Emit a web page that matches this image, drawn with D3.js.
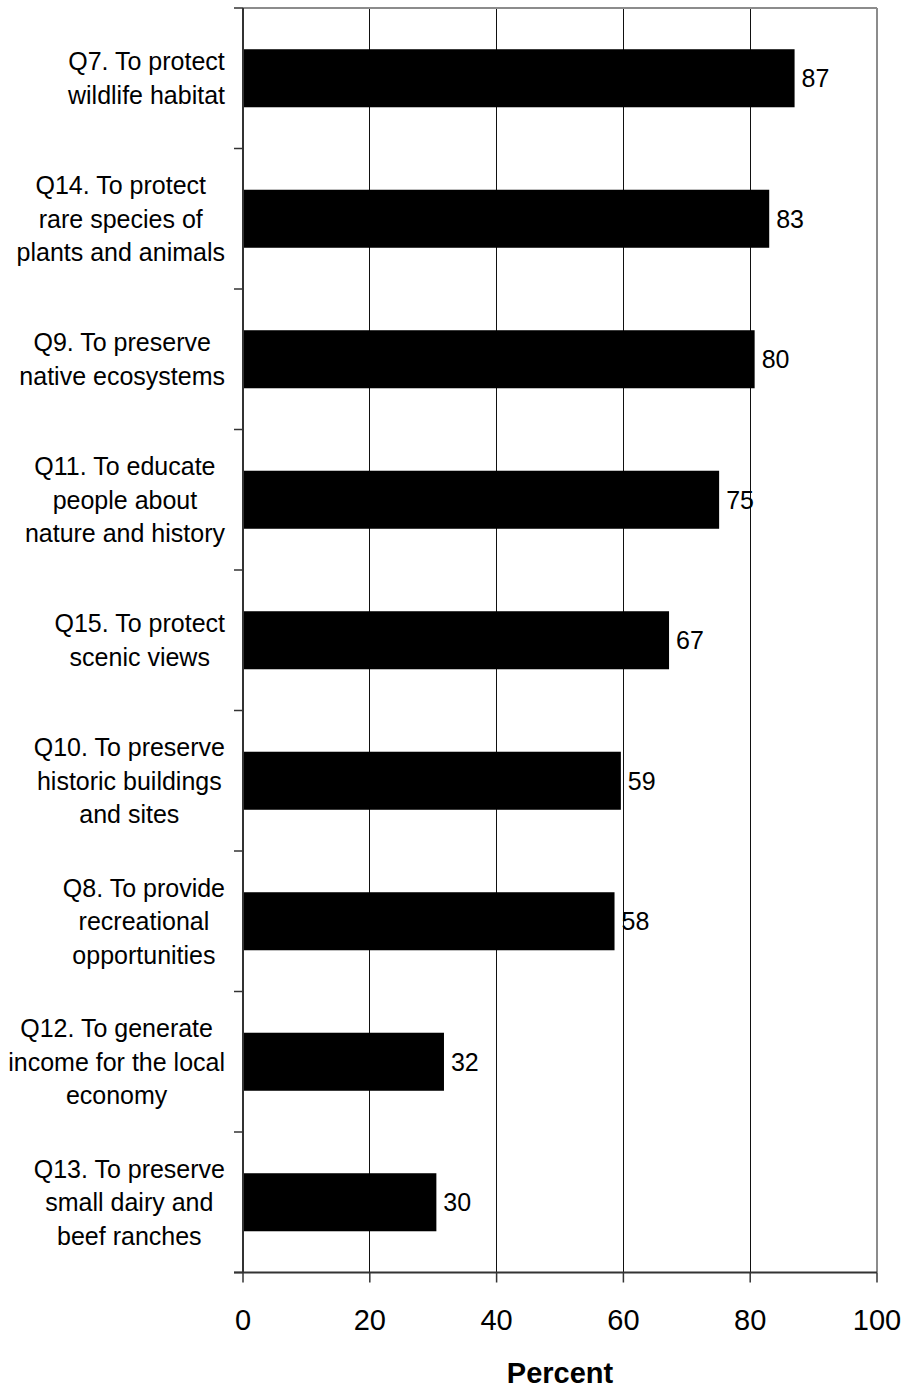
<!DOCTYPE html>
<html>
<head>
<meta charset="utf-8">
<script src="https://cdn.jsdelivr.net/npm/d3@7"></script>
<style>
  html, body { margin: 0; padding: 0; background: #fff; }
  svg { display: block; font-family: "Liberation Sans", Arial, sans-serif; }
</style>
</head>
<body>
<svg id="chart" width="906" height="1388"></svg>
<script>
// ---- data ----
const categories = ["Q7", "Q14", "Q9", "Q11", "Q15", "Q10", "Q8", "Q12", "Q13"];
const categoryLines = [
  ["Q7. To protect", "wildlife habitat"],
  ["Q14. To protect", "rare species of", "plants and animals"],
  ["Q9. To preserve", "native ecosystems"],
  ["Q11. To educate", "people about", "nature and history"],
  ["Q15. To protect", "scenic views"],
  ["Q10. To preserve", "historic buildings", "and sites"],
  ["Q8. To provide", "recreational", "opportunities"],
  ["Q12. To generate", "income for the local", "economy"],
  ["Q13. To preserve", "small dairy and", "beef ranches"]
];
const values = [87, 83, 80.7, 75.1, 67.2, 59.6, 58.6, 31.7, 30.5];
const valueLabels = ["87", "83", "80", "75", "67", "59", "58", "32", "30"];
const xTicks = [0, 20, 40, 60, 80, 100];
const xTitle = "Percent";

(function () {
// ---- layout ----
const svg = d3.select("#chart");
const pLeft = 243, pRight = 877, pTop = 8, pBottom = 1272.5;

const x = d3.scaleLinear().domain([0, 100]).range([pLeft, pRight]);
const y = d3.scaleBand().domain(categories).range([pTop, pBottom])
  .paddingInner(0.587).paddingOuter(0.2935);
const step = y.step();

// gridlines
svg.append("g").selectAll("line").data(xTicks.filter(d => d > 0 && d < 100)).join("line")
  .attr("x1", d => x(d)).attr("x2", d => x(d))
  .attr("y1", pTop).attr("y2", pBottom)
  .attr("stroke", "#111").attr("stroke-width", 1).attr("shape-rendering", "crispEdges");

// plot border top/right (grey)
svg.append("line").attr("x1", pLeft).attr("x2", pRight).attr("y1", pTop).attr("y2", pTop)
  .attr("stroke", "#8c8c8c").attr("stroke-width", 2);
svg.append("line").attr("x1", pRight).attr("x2", pRight).attr("y1", pTop).attr("y2", pBottom)
  .attr("stroke", "#8c8c8c").attr("stroke-width", 2);

// bars
svg.append("g").selectAll("rect").data(categories).join("rect")
  .attr("x", x(0))
  .attr("y", d => y(d))
  .attr("width", (d, i) => x(values[i]) - x(0))
  .attr("height", y.bandwidth())
  .attr("fill", "#000");

// value labels
svg.append("g").selectAll("text").data(categories).join("text")
  .attr("x", (d, i) => x(values[i]) + 7)
  .attr("y", d => y(d) + y.bandwidth() / 2)
  .attr("dy", "0.35em")
  .attr("font-size", 25)
  .attr("fill", "#000")
  .text((d, i) => valueLabels[i]);

// left axis line + category boundary ticks
svg.append("line").attr("x1", pLeft).attr("x2", pLeft).attr("y1", pTop).attr("y2", pBottom)
  .attr("stroke", "#333").attr("stroke-width", 2);
const bounds = d3.range(categories.length + 1).map(i => pTop + i * step);
svg.append("g").selectAll("line").data(bounds).join("line")
  .attr("x1", pLeft - 9).attr("x2", pLeft)
  .attr("y1", d => d).attr("y2", d => d)
  .attr("stroke", "#333").attr("stroke-width", 1.5);

// bottom axis
svg.append("line").attr("x1", pLeft - 9).attr("x2", pRight).attr("y1", pBottom).attr("y2", pBottom)
  .attr("stroke", "#333").attr("stroke-width", 2);
svg.append("g").selectAll("line").data(xTicks).join("line")
  .attr("x1", d => x(d)).attr("x2", d => x(d))
  .attr("y1", pBottom).attr("y2", pBottom + 10)
  .attr("stroke", "#333").attr("stroke-width", 1.5);
svg.append("g").selectAll("text").data(xTicks).join("text")
  .attr("x", d => x(d)).attr("y", 1330)
  .attr("text-anchor", "middle")
  .attr("font-size", 29)
  .attr("fill", "#000")
  .text(d => d);

// axis title
svg.append("text")
  .attr("x", (pLeft + pRight) / 2).attr("y", 1383)
  .attr("text-anchor", "middle")
  .attr("font-size", 29).attr("font-weight", "bold")
  .attr("fill", "#000")
  .text(xTitle);

// category labels (centered multi-line blocks, right-aligned to axis)
const lineH = 33.5, labelRight = 225;
categories.forEach((c, i) => {
  const lines = categoryLines[i];
  const cy = y(c) + y.bandwidth() / 2;
  const g = svg.append("text")
    .attr("font-size", 25)
    .attr("fill", "#000")
    .attr("text-anchor", "middle");
  const tspans = g.selectAll("tspan").data(lines).join("tspan")
    .attr("x", 0)
    .attr("y", (d, j) => cy + (j - (lines.length - 1) / 2) * lineH)
    .attr("dy", "0.35em")
    .text(d => d);
  let maxW = 0;
  tspans.each(function () { maxW = Math.max(maxW, this.getComputedTextLength()); });
  tspans.attr("x", labelRight - maxW / 2);
});
})();
</script>
</body>
</html>
